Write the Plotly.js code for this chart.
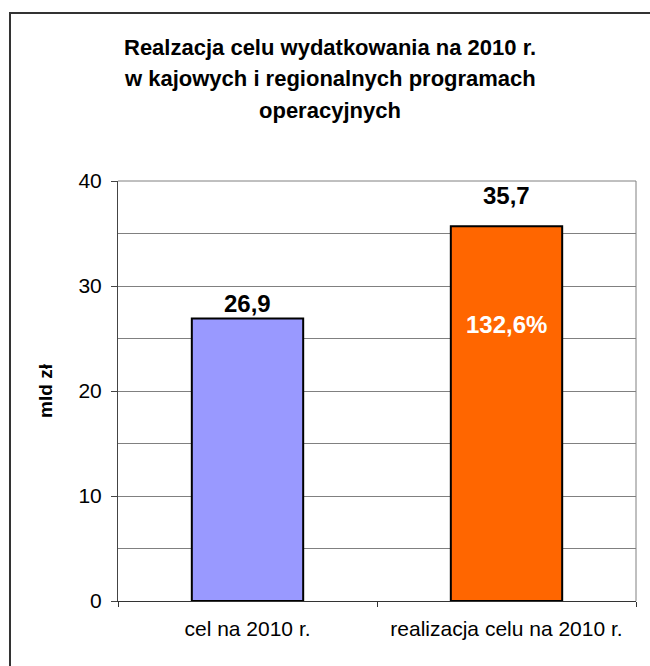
<!DOCTYPE html>
<html><head><meta charset="utf-8">
<script src="https://cdn.plot.ly/plotly-3.0.1.min.js"></script>
<style>body{margin:0;background:#fff}#chart{width:650px;height:666px}</style>
</head><body><div id="chart"></div>
<script>
const categories = ['cel na 2010 r.', 'realizacja celu na 2010 r.'];
const values = [26.9, 35.7];
const barColors = ['#9999FF', '#FF6600'];
const valueLabels = ['26,9', '35,7'];
const innerLabel = '132,6%';
const titleLines = ['Realzacja celu wydatkowania na 2010 r.', 'w kajowych i regionalnych programach', 'operacyjnych'];
const yTicks = [0, 10, 20, 30, 40];
const yTitle = 'mld zł';

const FONT = 'Liberation Sans, Arial, sans-serif';

const trace = {
  type: 'bar',
  x: categories,
  y: values,
  marker: {color: barColors, line: {color: '#000', width: 2}},
  width: 0.43,
  hoverinfo: 'none'
};

const titleY = [1.319, 1.243, 1.167];
const annotations = titleLines.map((t, i) => ({
  xref: 'paper', yref: 'paper', x: 0.409, y: titleY[i],
  xanchor: 'center', yanchor: 'middle', showarrow: false,
  text: '<b>' + t + '</b>', font: {family: FONT, size: 22, color: '#000'}
}));
const labelShift = [0, 15];
categories.forEach((c, i) => {
  annotations.push({
    xref: 'x', yref: 'y', x: c, y: values[i], yanchor: 'bottom', xanchor: 'center',
    yshift: labelShift[i], showarrow: false,
    text: '<b>' + valueLabels[i] + '</b>', font: {family: FONT, size: 24, color: '#000'}
  });
});
annotations.push({
  xref: 'x', yref: 'y', x: categories[1], y: values[1] - 9.4, yanchor: 'middle', xanchor: 'center',
  showarrow: false, text: '<b>' + innerLabel + '</b>', font: {family: FONT, size: 24, color: '#fff'}
});

const layout = {
  width: 650, height: 666,
  margin: {l: 118, r: 14, t: 181, b: 65, pad: 0},
  paper_bgcolor: '#fff', plot_bgcolor: '#fff',
  showlegend: false,
  font: {family: FONT, color: '#000'},
  xaxis: {
    type: 'category',
    showline: true, linecolor: '#333', linewidth: 1,
    ticks: 'outside', tickson: 'boundaries', ticklen: 5, tickcolor: '#333',
    tickfont: {family: FONT, size: 21, color: '#000'},
    ticklabelstandoff: 9,
    showgrid: false, zeroline: false, fixedrange: true
  },
  yaxis: {
    range: [0, 40], tickvals: yTicks, ticktext: yTicks.map(String),
    showline: true, linecolor: '#444', linewidth: 1,
    ticks: 'outside', ticklen: 6, tickcolor: '#444',
    tickfont: {family: FONT, size: 21, color: '#000'},
    ticklabelstandoff: 5,
    showgrid: true, gridcolor: '#808080', gridwidth: 1,
    minor: {dtick: 5, showgrid: true, gridcolor: '#808080', gridwidth: 1, ticks: ''},
    zeroline: false, fixedrange: true,
    title: {text: '<b>' + yTitle + '</b>', font: {family: FONT, size: 19, color: '#000'}, standoff: 20}
  },
  shapes: [
    {type: 'line', xref: 'paper', yref: 'paper', x0: 1, x1: 1, y0: 0, y1: 1, line: {color: '#808080', width: 1}},
    {type: 'line', xref: 'paper', yref: 'paper', x0: 0, x1: 1, y0: 1, y1: 1, line: {color: '#808080', width: 1}},
    {type: 'rect', xref: 'paper', yref: 'paper', x0: -0.2085, x1: 1.5, y0: -1, y1: 1.4, line: {color: '#333', width: 2}}
  ],
  annotations: annotations
};

Plotly.newPlot('chart', [trace], layout, {displayModeBar: false, staticPlot: true});
</script>
</body></html>
